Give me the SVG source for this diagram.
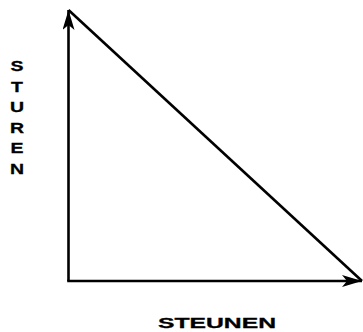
<svg xmlns="http://www.w3.org/2000/svg" width="363" height="332" viewBox="0 0 363 332">
<style>
.ln{stroke:#000;stroke-width:2.6;fill:none}
.lbl{font-family:"Liberation Sans",Arial,sans-serif;font-weight:bold;font-size:15px;fill:#000;stroke:#000;stroke-width:0.3}
</style>
<defs>
<marker id="ah" viewBox="0 0 20 12" refX="20" refY="6" markerWidth="20" markerHeight="12" markerUnits="userSpaceOnUse" orient="auto">
<path d="M0,0 L20,6 L0,12 L5,6 Z" fill="#000"/>
</marker>
</defs>
<rect width="363" height="332" fill="#fff"/>
<g id="connectors">
<line class="ln" x1="68.5" y1="281" x2="68.5" y2="10" marker-end="url(#ah)"/>
<line class="ln" x1="67.2" y1="281" x2="362" y2="281" marker-end="url(#ah)"/>
<line class="ln" x1="68.5" y1="10" x2="362" y2="281"/>
</g>
<g id="y-label" class="lbl" text-anchor="middle" transform="translate(17 0) scale(1.3 1)">
<text x="0" y="71">S</text>
<text x="0" y="91.6">T</text>
<text x="0" y="112.2">U</text>
<text x="0" y="132.8">R</text>
<text x="0" y="153.4">E</text>
<text x="0" y="174">N</text>
</g>
<g id="x-label">
<text class="lbl" x="158" y="328" textLength="118" lengthAdjust="spacingAndGlyphs">STEUNEN</text>
</g>
</svg>
